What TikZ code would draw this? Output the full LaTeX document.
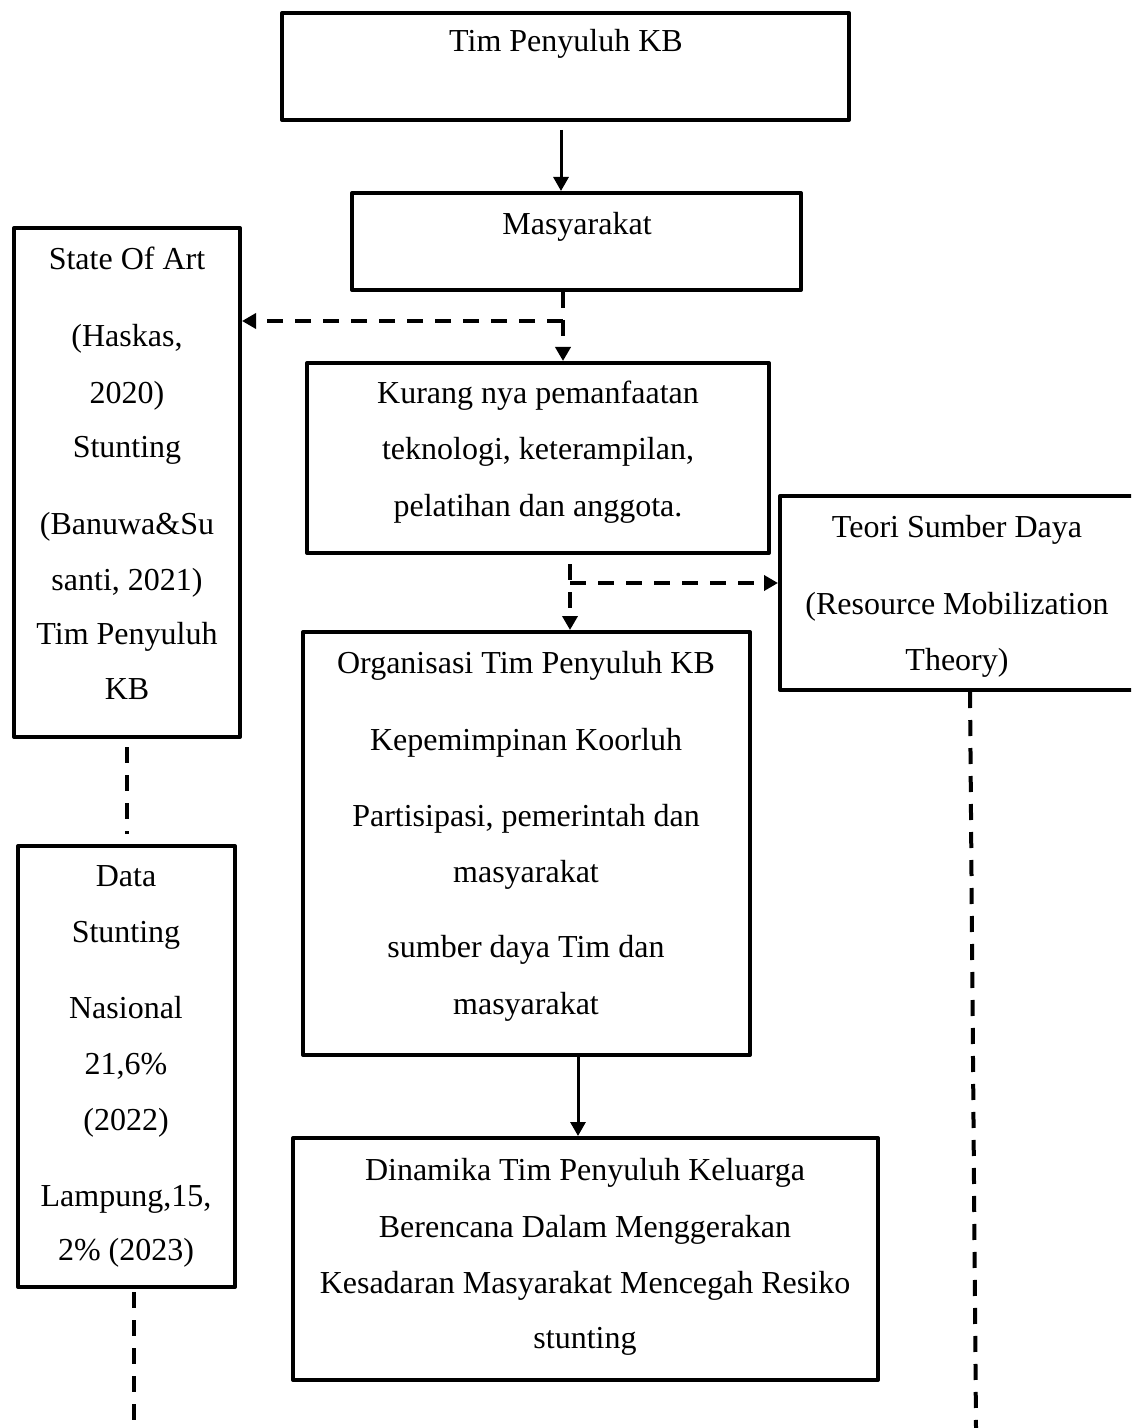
\documentclass[tikz,border=0pt]{standalone}
\usepackage{fontspec}
\setmainfont{Liberation Serif}
\usetikzlibrary{arrows.meta,fit}
\begin{document}
\begin{tikzpicture}[x=0.5pt,y=-0.5pt,
  box/.style={draw, line width=2pt, inner sep=0pt, line join=round},
  txt/.style={inner sep=0pt, anchor=base, font=\fontsize{16}{28}\selectfont},
  solidarrow/.style={line width=1.5pt, -{Triangle[length=7pt,width=7.5pt]}},
  dashline/.style={line width=2pt, dash pattern=on 8pt off 6pt},
  dasharrow/.style={dashline, -{Triangle[length=7pt,width=7.5pt]}}]
\useasboundingbox (0,0) rectangle (1131,1428);
\clip (0,0) rectangle (1131,1428);
% boxes
\node[box, fit={(282,13) (849,120)}] (b1) {};
\node[box, fit={(352,193) (801,290)}] (b2) {};
\node[box, fit={(14,228) (240,737)}] (st) {};
\node[box, fit={(307,363) (769,553)}] (ku) {};
\node[box, fit={(780,496) (1150,690)}] (te) {};
\node[box, fit={(303,632) (750,1055)}] (or) {};
\node[box, fit={(293,1138) (878,1380)}] (di) {};
\node[box, fit={(18,846) (235,1287)}] (da) {};
% texts
\node[txt] (t1) at (566,52) {Tim Penyuluh KB};
\node[txt] (t2) at (577,235) {Masyarakat};
\node[txt] (s1) at (127,270) {State Of Art};
\node[txt] (s2) at (127,347) {(Haskas,};
\node[txt] (s3) at (127,403) {2020)};
\node[txt] (s4) at (127,457) {Stunting};
\node[txt] (s5) at (127,534) {(Banuwa\&Su};
\node[txt] (s6) at (127,590) {santi, 2021)};
\node[txt] (s7) at (127,644) {Tim Penyuluh};
\node[txt] (s8) at (127,699) {KB};
\node[txt] (k1) at (538,403) {Kurang nya pemanfaatan};
\node[txt] (k2) at (538,459) {teknologi, keterampilan,};
\node[txt] (k3) at (538,516) {pelatihan dan anggota.};
\node[txt] (e1) at (957,537) {Teori Sumber Daya};
\node[txt] (e2) at (957,614) {(Resource Mobilization};
\node[txt] (e3) at (957,670) {Theory)};
\node[txt] (o1) at (526,673) {Organisasi Tim Penyuluh KB};
\node[txt] (o2) at (526,750) {Kepemimpinan Koorluh};
\node[txt] (o3) at (526,826) {Partisipasi, pemerintah dan};
\node[txt] (o4) at (526,882) {masyarakat};
\node[txt] (o5) at (526,957) {sumber daya Tim dan};
\node[txt] (o6) at (526,1014) {masyarakat};
\node[txt] (d1) at (585,1180) {Dinamika Tim Penyuluh Keluarga};
\node[txt] (d2) at (585,1237) {Berencana Dalam Menggerakan};
\node[txt] (d3) at (585,1293) {Kesadaran Masyarakat Mencegah Resiko};
\node[txt] (d4) at (585,1348) {stunting};
\node[txt] (a1) at (126,886) {Data};
\node[txt] (a2) at (126,942) {Stunting};
\node[txt] (a3) at (126,1018) {Nasional};
\node[txt] (a4) at (126,1074) {21,6\%};
\node[txt] (a5) at (126,1130) {(2022)};
\node[txt] (a6) at (126,1206) {Lampung,15,};
\node[txt] (a7) at (126,1260) {2\% (2023)};
% helper coordinates
\coordinate (x561) at (561,0);
\coordinate (j1) at (563,321);
\coordinate (j2) at (570,583);
\coordinate (x578) at (578,0);
\coordinate (x127) at (127,0);
\coordinate (x134) at (134,0);
\coordinate (x970) at (970,0);
\coordinate (endL) at (134,1428);
\coordinate (endR) at (976,1428);
% connectors
\draw[solidarrow, shorten <=4pt] (b1.south -| x561) -- (b2.north -| x561);
\draw[dasharrow] (b2.south -| j1) -- (ku.north -| j1);
\draw[dasharrow] (j1) -- (j1 -| st.east);
\draw[dasharrow, shorten <=4.5pt] (ku.south -| j2) -- (or.north -| j2);
\draw[dasharrow] (j2) -- (j2 -| te.west);
\draw[solidarrow] (or.south -| x578) -- (di.north -| x578);
\draw[dashline, shorten <=4pt, shorten >=5pt] (st.south -| x127) -- (da.north -| x127);
\draw[dashline, shorten <=1.5pt] (da.south -| x134) -- (endL);
\draw[dashline] (te.south -| x970) -- (endR);
\end{tikzpicture}
\end{document}
